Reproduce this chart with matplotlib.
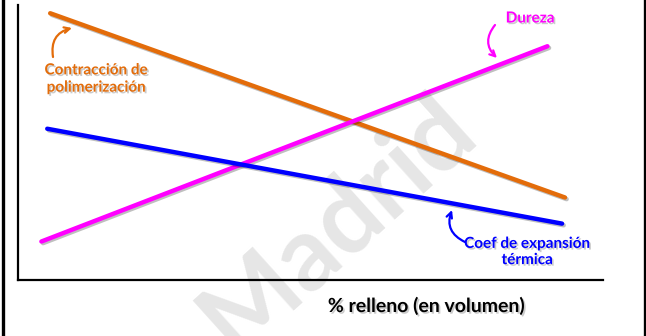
import matplotlib
matplotlib.use("Agg")
import matplotlib.pyplot as plt
import matplotlib.patheffects as pe
from matplotlib.lines import Line2D

plt.rcParams['font.family'] = ['Lato', 'DejaVu Sans']

# Schematic trends versus filler volume fraction (arbitrary units)
contraccion_x = [5.5, 93.5]
contraccion_y = [97.0, 30.0]
dureza_x = [4.0, 90.5]
dureza_y = [14.0, 85.0]
expansion_x = [5.0, 93.0]
expansion_y = [55.0, 20.5]

label_contraccion = "Contracción de\npolimerización"
label_dureza = "Dureza"
label_expansion = "Coef de expansión\ntérmica"
xlabel = "% relleno (en volumen)"

ORANGE = "#E36C0A"
MAGENTA = "#FF00FF"
BLUE = "#0000FF"

W, H = 646, 336
fig = plt.figure(figsize=(W / 100, H / 100), dpi=100)
fig.patch.set_facecolor("white")

ax = fig.add_axes([18 / W, (H - 280) / H, 585 / W, 275 / H])
ax.set_xlim(0, 100)
ax.set_ylim(0, 100)
ax.set_xticks([])
ax.set_yticks([])
for side in ("top", "right"):
    ax.spines[side].set_visible(False)
for side in ("left", "bottom"):
    ax.spines[side].set_linewidth(1.6)
    ax.spines[side].set_color("black")

# faint watermark behind the curves, running off the lower edge
ax.text(0.547, 0.205, "Madrid", transform=ax.transAxes, rotation=42,
        fontsize=74, fontweight="bold", color="#e6e6e6",
        ha="center", va="center", zorder=0, clip_on=False)

line_fx = [pe.SimpleLineShadow(offset=(1.2, -1.2), alpha=0.25), pe.Normal()]
for xs, ys, c in [(contraccion_x, contraccion_y, ORANGE),
                  (dureza_x, dureza_y, MAGENTA),
                  (expansion_x, expansion_y, BLUE)]:
    ax.plot(xs, ys, color=c, lw=3.2, solid_capstyle="round",
            path_effects=line_fx, zorder=3)

text_fx = [pe.withSimplePatchShadow(offset=(1.2, -1.2), shadow_rgbFace="#555555", alpha=0.3)]


def px(x, y):
    """Figure pixel position -> data coordinates of the axes."""
    return ((x - 18) / 5.85, (280 - y) / 2.75)


# curve labels with curved pointers
ax.text(*px(96, 79), label_contraccion, color=ORANGE, fontsize=11,
        fontweight="bold", ha="center", va="center", linespacing=1.3,
        path_effects=text_fx, zorder=4, clip_on=False)
ax.annotate("", xy=px(72, 28), xytext=px(53, 57),
            arrowprops=dict(arrowstyle="->", color=ORANGE, lw=1.6,
                            connectionstyle="arc3,rad=-0.45",
                            shrinkA=0, shrinkB=0), zorder=4)

ax.text(*px(530, 18.5), label_dureza, color=MAGENTA, fontsize=11,
        fontweight="bold", ha="center", va="center",
        path_effects=text_fx, zorder=4, clip_on=False)
ax.annotate("", xy=px(497, 58), xytext=px(495, 25),
            arrowprops=dict(arrowstyle="->", color=MAGENTA, lw=1.6,
                            connectionstyle="arc3,rad=0.45",
                            shrinkA=0, shrinkB=0), zorder=4)

ax.text(*px(527, 252), label_expansion, color=BLUE, fontsize=11,
        fontweight="bold", ha="center", va="center", linespacing=1.2,
        path_effects=text_fx, zorder=4, clip_on=False)
ax.annotate("", xy=px(452, 210), xytext=px(465, 242),
            arrowprops=dict(arrowstyle="->", color=BLUE, lw=1.6,
                            connectionstyle="arc3,rad=-0.45",
                            shrinkA=0, shrinkB=0), zorder=4)

ax.text(*px(427, 306), xlabel, color="black", fontsize=14,
        fontweight="bold", ha="center", va="center",
        path_effects=text_fx, zorder=4, clip_on=False)

# slide frame edges
fig.add_artist(Line2D([2.5 / W, 2.5 / W], [0, 1], color="black", lw=2.4,
                      transform=fig.transFigure))
fig.add_artist(Line2D([644.5 / W, 644.5 / W], [0, 1], color="black", lw=2.4,
                      transform=fig.transFigure))

fig.savefig("out.png", dpi=100, facecolor="white")
